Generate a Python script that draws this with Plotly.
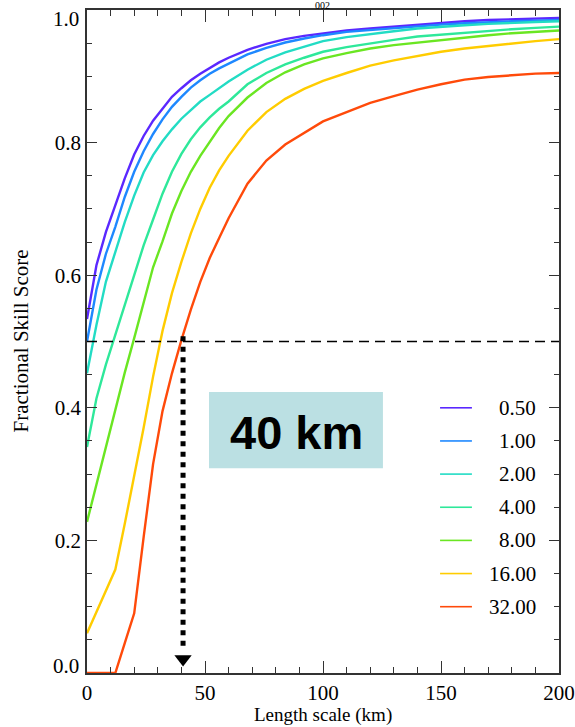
import plotly.graph_objects as go

# ---------------- data ----------------
length_scale = [0, 4, 8, 12, 16, 20, 24, 28, 32, 36, 40, 44, 48, 52, 56, 60,
                68, 76, 84, 92, 100, 110, 120, 130, 140, 150, 160, 170, 180, 190, 200]

fss_050 = [0.534, 0.615, 0.665, 0.706, 0.746, 0.782, 0.810, 0.833, 0.851, 0.869, 0.882,
           0.894, 0.904, 0.913, 0.921, 0.928, 0.940, 0.949, 0.956, 0.961, 0.965, 0.969,
           0.972, 0.975, 0.978, 0.981, 0.983, 0.985, 0.986, 0.987, 0.988]
fss_100 = [0.500, 0.578, 0.632, 0.673, 0.718, 0.756, 0.787, 0.813, 0.835, 0.854, 0.869,
           0.883, 0.894, 0.904, 0.912, 0.919, 0.933, 0.943, 0.951, 0.957, 0.962, 0.967,
           0.970, 0.973, 0.976, 0.978, 0.980, 0.982, 0.983, 0.984, 0.985]
fss_200 = [0.452, 0.525, 0.590, 0.635, 0.680, 0.720, 0.755, 0.781, 0.802, 0.820, 0.836,
           0.849, 0.862, 0.872, 0.882, 0.892, 0.910, 0.925, 0.936, 0.945, 0.953, 0.959,
           0.964, 0.968, 0.972, 0.975, 0.977, 0.979, 0.981, 0.982, 0.983]
fss_400 = [0.341, 0.414, 0.465, 0.510, 0.552, 0.598, 0.645, 0.684, 0.723, 0.756, 0.783,
           0.805, 0.823, 0.838, 0.851, 0.862, 0.888, 0.905, 0.918, 0.928, 0.937, 0.944,
           0.950, 0.955, 0.960, 0.963, 0.966, 0.969, 0.971, 0.973, 0.975]
fss_800 = [0.228, 0.285, 0.342, 0.400, 0.453, 0.505, 0.560, 0.612, 0.651, 0.693, 0.727,
           0.756, 0.780, 0.802, 0.822, 0.840, 0.868, 0.890, 0.906, 0.918, 0.927, 0.935,
           0.942, 0.947, 0.951, 0.955, 0.959, 0.962, 0.965, 0.967, 0.969]
fss_1600 = [0.060, 0.092, 0.124, 0.156, 0.225, 0.296, 0.370, 0.447, 0.516, 0.573, 0.620,
            0.663, 0.700, 0.732, 0.758, 0.780, 0.818, 0.846, 0.866, 0.881, 0.893, 0.905,
            0.916, 0.924, 0.931, 0.937, 0.942, 0.946, 0.950, 0.953, 0.956]
fss_3200 = [0.000, 0.000, 0.000, 0.000, 0.045, 0.090, 0.205, 0.315, 0.395, 0.452, 0.502,
            0.548, 0.590, 0.626, 0.656, 0.686, 0.738, 0.773, 0.797, 0.815, 0.832, 0.846,
            0.860, 0.870, 0.880, 0.888, 0.895, 0.899, 0.902, 0.904, 0.905]

series_names = ["0.50", "1.00", "2.00", "4.00", "8.00", "16.00", "32.00"]
series_values = [fss_050, fss_100, fss_200, fss_400, fss_800, fss_1600, fss_3200]
series_colors = ["#5a28ff", "#1e88ff", "#22dcc4", "#2ee89a", "#6ae622", "#ffcc00", "#ff4a0a"]

x_ticks = [0, 50, 100, 150, 200]
y_ticks = [0.0, 0.2, 0.4, 0.6, 0.8, 1.0]
y_tick_labels = ["0.0", "0.2", "0.4", "0.6", "0.8", "1.0"]

threshold_fss = 0.5
skillful_scale = 40.7
title_text = "002"
box_text = "40 km"

SERIF = "Liberation Serif, Times New Roman, DejaVu Serif, serif"

# ---------------- figure ----------------
fig = go.Figure()
for name, vals, col in zip(series_names, series_values, series_colors):
    fig.add_trace(go.Scatter(x=length_scale, y=vals, mode="lines", name=name,
                             line=dict(color=col, width=2.4), showlegend=False))

# arrow head at the bottom of the dotted line
fig.add_trace(go.Scatter(x=[skillful_scale], y=[0.021], mode="markers",
                         marker=dict(symbol="triangle-down", size=15, color="black"),
                         showlegend=False, cliponaxis=False))

shapes = []
shapes.append(dict(type="line", xref="x", yref="y", x0=0, x1=200,
                   y0=threshold_fss, y1=threshold_fss,
                   line=dict(color="black", width=1.3, dash="10px,6px")))
shapes.append(dict(type="line", xref="x", yref="y", x0=skillful_scale, x1=skillful_scale,
                   y0=0.508, y1=0.035,
                   line=dict(color="black", width=5, dash="5px,5.5px")))
shapes.append(dict(type="rect", xref="x", yref="y", x0=51.7, x1=125.4, y0=0.309, y1=0.424,
                   fillcolor="#bbe0e3", line=dict(width=0), layer="below"))

annotations = []
annotations.append(dict(x=88.6, y=0.362, xref="x", yref="y", text="<b>" + box_text + "</b>",
                        showarrow=False, font=dict(family="Liberation Sans, Arial, sans-serif",
                                                   size=47, color="black")))

# manual legend
leg_y0 = 0.40
for i, (name, col) in enumerate(zip(series_names, series_colors)):
    yy = leg_y0 - 0.05 * i
    shapes.append(dict(type="line", xref="x", yref="y", x0=149.6, x1=163.1, y0=yy, y1=yy,
                       line=dict(color=col, width=1.6)))
    annotations.append(dict(x=191.3, y=yy, xref="x", yref="y", text=name, showarrow=False,
                            xanchor="right", yanchor="middle",
                            font=dict(family=SERIF, size=21, color="black")))

# end tick labels of the y axis are nudged inwards (as in the original)
shown_y_labels = [lab if 0 < v < 1 else "" for v, lab in zip(y_ticks, y_tick_labels)]
for v, lab in zip(y_ticks, y_tick_labels):
    if v == 0 or v == 1:
        y_px = 666 if v == 0 else 19.5
        annotations.append(dict(x=(81 - 87) / 472, y=(673 - y_px) / 663, xref="paper", yref="paper",
                                text=lab, showarrow=False, xanchor="right", yanchor="middle",
                                font=dict(family=SERIF, size=21, color="black")))

# axis titles
annotations.append(dict(x=(20 - 87) / 472, y=0.5, xref="paper", yref="paper",
                        text="Fractional Skill Score", textangle=-90, showarrow=False,
                        xanchor="center", yanchor="middle",
                        font=dict(family=SERIF, size=21, color="black")))
annotations.append(dict(x=0.5, y=(673 - 714.5) / 663, xref="paper", yref="paper",
                        text="Length scale (km)", showarrow=False,
                        xanchor="center", yanchor="middle", borderpad=0,
                        font=dict(family=SERIF, size=19, color="black")))
# small title at the very top
annotations.append(dict(x=(322 - 87) / 472, y=1.0 + 5 / 663, xref="paper", yref="paper",
                        text=title_text, showarrow=False, xanchor="center", yanchor="middle",
                        borderpad=0,
                        font=dict(family=SERIF, size=10, color="black")))

axis_common = dict(showgrid=False, zeroline=False, showline=True, linecolor="#333333",
                   linewidth=1.6, mirror="ticks", ticks="inside", tickcolor="#333333",
                   tickwidth=1.4, automargin=False, ticklabeloverflow="allow",
                   tickfont=dict(family=SERIF, size=21, color="black"))

fig.update_layout(
    width=575, height=727,
    margin=dict(l=87, r=16, t=10, b=54, autoexpand=False),
    paper_bgcolor="white", plot_bgcolor="white",
    shapes=shapes, annotations=annotations,
    showlegend=False,
    xaxis=dict(range=[0, 200], tickvals=x_ticks, ticklen=12,
               minor=dict(dtick=10, ticklen=6, ticks="inside", tickcolor="#333333", tickwidth=1.2),
               **axis_common),
    yaxis=dict(range=[0, 1], tickvals=y_ticks, ticktext=shown_y_labels, ticklen=10,
               minor=dict(dtick=0.05, ticklen=5.5, ticks="inside", tickcolor="#333333", tickwidth=1.2),
               **axis_common),
)

fig.write_html("out.html")
